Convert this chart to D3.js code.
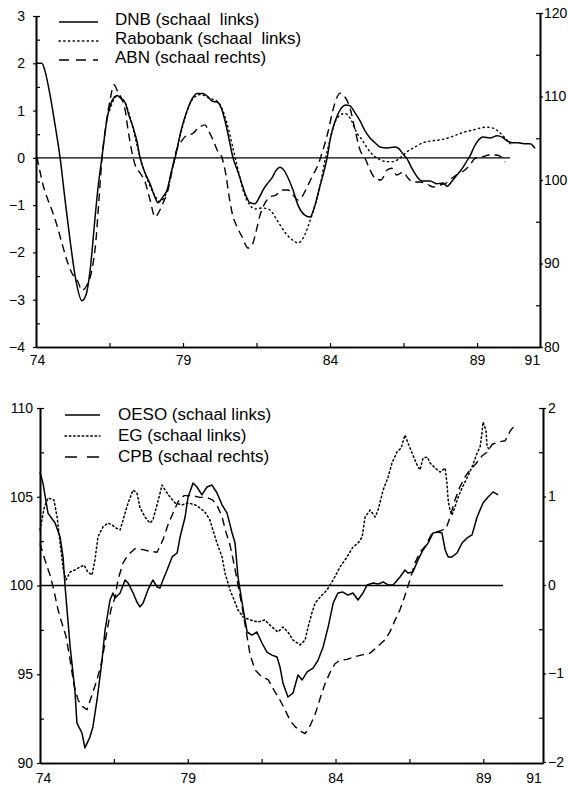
<!DOCTYPE html>
<html><head><meta charset="utf-8">
<script src="https://cdn.jsdelivr.net/npm/d3@7"></script>
<style>
body{margin:0;background:#fff;}
svg text{font-family:"Liberation Sans",Arial,Helvetica,sans-serif;fill:#000;}
</style></head><body><svg id="c" width="568" height="787"></svg>
<script>
// ---------- DATA (year, value) ----------
// Top panel: left scale
const dnb = [[74.0,2.0],[74.2,2.0],[74.3,1.85],[74.48,1.32],[74.65,0.69],[74.82,0.0],[74.99,-0.9],[75.16,-1.75],[75.36,-2.6],[75.56,-3.02],[75.7,-2.9],[75.84,-2.38],[76.0,-1.32],[76.1,-0.68],[76.24,0.0],[76.41,0.8],[76.58,1.2],[76.76,1.32],[76.9,1.25],[77.03,1.17],[77.16,0.9],[77.3,0.65],[77.44,0.33],[77.54,0],[77.71,-0.32],[77.88,-0.55],[78.05,-0.84],[78.15,-0.95],[78.32,-0.82],[78.46,-0.68],[78.6,-0.3],[78.73,0],[78.93,0.57],[79.14,1.0],[79.31,1.25],[79.48,1.36],[79.68,1.36],[79.85,1.29],[79.99,1.2],[80.19,1.17],[80.33,1.0],[80.5,0.59],[80.7,0],[80.87,-0.3],[81.0,-0.55],[81.14,-0.8],[81.28,-0.95],[81.45,-0.97],[81.59,-0.84],[81.72,-0.68],[81.89,-0.53],[82.03,-0.42],[82.16,-0.27],[82.3,-0.2],[82.44,-0.27],[82.57,-0.42],[82.74,-0.68],[82.91,-1.0],[83.12,-1.2],[83.32,-1.25],[83.49,-1.0],[83.66,-0.59],[83.8,-0.27],[83.9,0],[84.03,0.47],[84.2,0.82],[84.37,1.04],[84.54,1.12],[84.68,1.1],[84.85,0.95],[85.02,0.78],[85.19,0.57],[85.36,0.42],[85.53,0.32],[85.7,0.23],[85.94,0.21],[86.21,0.23],[86.35,0.19],[86.48,0.08],[86.62,-0.02],[86.79,-0.23],[86.96,-0.4],[87.13,-0.49],[87.4,-0.49],[87.64,-0.55],[87.84,-0.53],[87.98,-0.6],[88.15,-0.49],[88.32,-0.36],[88.49,-0.23],[88.66,-0.06],[88.76,0.04],[88.9,0.23],[89.03,0.36],[89.2,0.44],[89.44,0.42],[89.68,0.47],[89.85,0.44],[90.02,0.36],[90.19,0.32],[90.39,0.32],[90.6,0.3],[90.8,0.3],[90.97,0.2]];
const rabobank = [[76.5,1.0],[76.75,1.3],[77.0,1.2],[77.25,0.75],[77.5,0.1],[77.75,-0.4],[78.0,-0.75],[78.2,-0.92],[78.45,-0.72],[78.7,-0.05],[79.0,0.7],[79.3,1.22],[79.6,1.34],[79.9,1.26],[80.16,1.2],[80.33,1.04],[80.5,0.72],[80.7,0.2],[80.87,-0.25],[81.05,-0.7],[81.25,-0.98],[81.45,-1.08],[81.7,-1.06],[81.95,-1.1],[82.2,-1.32],[82.5,-1.6],[82.75,-1.75],[82.91,-1.8],[83.08,-1.7],[83.32,-1.33],[83.49,-1.0],[83.66,-0.59],[83.83,-0.05],[84.0,0.38],[84.17,0.76],[84.34,0.9],[84.5,0.94],[84.68,0.84],[84.92,0.52],[85.09,0.38],[85.26,0.21],[85.46,0.06],[85.7,-0.04],[85.94,-0.08],[86.14,-0.08],[86.38,0.0],[86.62,0.13],[86.89,0.23],[87.16,0.32],[87.47,0.36],[87.74,0.38],[88.01,0.42],[88.32,0.49],[88.59,0.55],[88.86,0.59],[89.1,0.63],[89.34,0.65],[89.54,0.63],[89.78,0.53],[89.95,0.42],[90.12,0.3]];
// Top panel: right scale
const abn = [[74.03,102.75],[74.14,100.96],[74.24,99.4],[74.37,97.96],[74.54,96.4],[74.71,94.6],[74.88,92.46],[75.05,90.4],[75.22,88.86],[75.43,87.78],[75.56,86.8],[75.73,87.4],[75.9,89.2],[76.04,92.8],[76.14,97.6],[76.24,102.4],[76.38,106.6],[76.52,109.6],[76.65,111.4],[76.79,110.5],[76.93,109.6],[77.03,108.4],[77.13,106.0],[77.23,103.95],[77.37,101.8],[77.54,100.84],[77.71,99.76],[77.88,97.6],[78.05,95.57],[78.18,96.17],[78.32,97.25],[78.46,98.44],[78.63,101.2],[78.76,103.35],[78.9,104.4],[79.1,105.27],[79.34,105.6],[79.51,106.2],[79.75,106.6],[79.85,106.0],[80.02,104.8],[80.16,103.6],[80.33,102.6],[80.46,100.6],[80.56,98.2],[80.67,96.05],[80.84,94.37],[81.01,93.17],[81.21,91.86],[81.35,92.2],[81.48,93.77],[81.62,95.8],[81.79,97.25],[81.96,97.96],[82.16,98.2],[82.37,98.8],[82.57,98.8],[82.74,98.2],[82.91,97.6],[83.08,98.2],[83.25,99.4],[83.42,100.6],[83.59,101.8],[83.76,103.6],[83.93,105.75],[84.1,108.4],[84.24,109.94],[84.34,110.4],[84.51,109.94],[84.68,108.6],[84.85,106.0],[85.02,103.6],[85.19,102.6],[85.36,101.2],[85.53,100.24],[85.73,100.0],[85.94,101.2],[86.1,101.4],[86.27,100.6],[86.48,100.96],[86.65,100.24],[86.82,99.76],[87.06,99.76],[87.3,99.5],[87.5,99.16],[87.74,99.4],[87.95,99.64],[88.15,100.24],[88.35,100.72],[88.59,101.2],[88.76,101.8],[88.93,102.6],[89.17,102.75],[89.41,102.99],[89.65,102.99],[89.82,102.75],[89.95,102.15]];
// Bottom panel: left scale
const oeso = [[74.0,106.39],[74.1,105.77],[74.27,104.08],[74.51,103.52],[74.68,102.73],[74.78,101.6],[74.85,99.92],[75.02,96.54],[75.18,94.11],[75.25,92.25],[75.42,91.69],[75.52,90.85],[75.69,91.46],[75.79,92.03],[75.93,93.55],[76.1,95.8],[76.2,97.49],[76.37,99.18],[76.47,99.58],[76.54,99.3],[76.71,99.58],[76.88,100.31],[76.98,100.14],[77.15,99.58],[77.28,99.07],[77.38,98.79],[77.49,99.01],[77.65,99.75],[77.82,100.31],[77.96,99.92],[78.06,99.86],[78.16,100.31],[78.3,100.87],[78.47,101.61],[78.64,101.83],[78.74,102.73],[78.91,103.86],[79.01,104.99],[79.18,105.77],[79.31,105.55],[79.48,105.1],[79.65,105.55],[79.82,105.66],[79.99,105.21],[80.16,104.54],[80.33,104.08],[80.5,102.96],[80.6,102.39],[80.7,100.48],[80.84,99.01],[81.01,97.38],[81.17,97.21],[81.34,97.38],[81.51,96.76],[81.68,96.25],[81.85,96.08],[82.02,95.97],[82.12,95.41],[82.22,94.51],[82.39,93.72],[82.56,93.94],[82.73,94.96],[82.87,94.68],[83.04,95.13],[83.24,95.35],[83.41,95.8],[83.58,96.54],[83.75,97.66],[83.92,99.01],[84.08,99.58],[84.25,99.63],[84.42,99.46],[84.59,99.58],[84.76,99.18],[84.93,99.58],[85.07,100.03],[85.27,100.14],[85.44,100.08],[85.61,100.2],[85.78,100.03],[85.95,100.03],[86.18,100.48],[86.35,100.87],[86.45,100.7],[86.62,100.76],[86.79,101.44],[86.96,102.0],[87.13,102.39],[87.3,102.96],[87.47,103.01],[87.6,102.96],[87.71,102.0],[87.81,101.61],[87.94,101.61],[88.11,101.83],[88.28,102.39],[88.45,102.68],[88.62,102.85],[88.79,103.86],[88.99,104.65],[89.16,104.99],[89.33,105.27],[89.5,105.1]];
const eg = [[74.0,103.13],[74.14,104.37],[74.27,104.93],[74.47,104.82],[74.58,103.86],[74.64,102.96],[74.71,102.0],[74.78,100.99],[74.88,100.31],[75.02,100.76],[75.18,100.87],[75.35,101.04],[75.49,101.15],[75.62,100.76],[75.76,100.59],[75.86,101.44],[75.96,102.73],[76.13,103.3],[76.3,103.52],[76.44,103.41],[76.57,103.24],[76.71,103.13],[76.81,103.69],[76.98,104.65],[77.15,105.38],[77.28,105.21],[77.38,104.42],[77.55,103.86],[77.72,103.52],[77.82,103.69],[77.93,104.37],[78.03,104.99],[78.13,105.66],[78.23,105.38],[78.4,104.99],[78.57,104.65],[78.81,104.54],[79.01,104.65],[79.25,104.54],[79.41,104.37],[79.58,104.14],[79.75,103.69],[79.85,103.13],[79.99,102.39],[80.16,101.61],[80.26,100.7],[80.43,99.75],[80.57,99.18],[80.7,98.62],[80.87,98.23],[81.11,98.06],[81.38,97.94],[81.61,98.06],[81.85,97.66],[82.05,97.38],[82.22,97.66],[82.39,97.38],[82.56,96.93],[82.8,96.65],[82.97,96.93],[83.07,97.66],[83.2,98.45],[83.31,99.01],[83.48,99.35],[83.71,99.75],[83.92,100.31],[84.15,101.04],[84.39,101.61],[84.59,102.17],[84.76,102.39],[84.9,102.73],[85.0,103.86],[85.17,104.25],[85.34,103.86],[85.44,104.25],[85.61,105.38],[85.78,106.11],[85.91,106.9],[86.08,107.52],[86.22,107.75],[86.35,108.48],[86.45,108.03],[86.59,107.46],[86.76,106.79],[86.86,106.51],[86.96,107.18],[87.1,107.24],[87.2,106.9],[87.37,106.62],[87.54,106.39],[87.71,106.62],[87.77,105.77],[87.81,104.82],[87.87,104.25],[87.94,103.97],[88.04,104.42],[88.15,104.99],[88.28,105.49],[88.45,106.06],[88.62,106.68],[88.79,107.46],[88.89,107.8],[88.96,108.65],[88.99,109.21],[89.09,108.76],[89.13,107.8],[89.23,107.63]];
// Bottom panel: right scale
const cpb = [[74.0,0.47],[74.17,0.28],[74.34,0.11],[74.47,-0.06],[74.61,-0.28],[74.74,-0.43],[74.88,-0.58],[75.02,-0.85],[75.15,-1.13],[75.29,-1.3],[75.46,-1.38],[75.59,-1.41],[75.76,-1.24],[75.93,-1.07],[76.1,-0.85],[76.27,-0.51],[76.4,-0.28],[76.54,-0.14],[76.64,0.06],[76.81,0.25],[76.98,0.34],[77.21,0.41],[77.49,0.4],[77.72,0.38],[77.96,0.37],[78.16,0.51],[78.33,0.68],[78.5,0.81],[78.67,0.94],[78.87,1.01],[79.14,1.01],[79.41,0.99],[79.65,0.99],[79.85,0.96],[80.02,0.88],[80.16,0.77],[80.29,0.6],[80.43,0.45],[80.57,0.23],[80.7,0.0],[80.84,-0.25],[80.97,-0.51],[81.11,-0.79],[81.28,-0.96],[81.51,-1.04],[81.72,-1.07],[81.92,-1.19],[82.12,-1.3],[82.29,-1.41],[82.46,-1.53],[82.63,-1.6],[82.8,-1.65],[82.97,-1.68],[83.14,-1.59],[83.31,-1.46],[83.48,-1.28],[83.64,-1.12],[83.81,-0.99],[83.98,-0.89],[84.15,-0.85],[84.39,-0.84],[84.66,-0.81],[84.9,-0.79],[85.17,-0.77],[85.44,-0.69],[85.67,-0.62],[85.84,-0.53],[86.01,-0.4],[86.18,-0.28],[86.35,-0.12],[86.52,0.06],[86.69,0.25],[86.86,0.37],[87.06,0.45],[87.27,0.59],[87.54,0.61],[87.74,0.64],[87.87,0.76],[88.04,0.96],[88.21,1.11],[88.38,1.22],[88.55,1.3],[88.75,1.37],[88.96,1.46],[89.13,1.5],[89.3,1.59],[89.57,1.62],[89.74,1.63],[89.91,1.74],[90.11,1.82]];

// Tick values / labels
const yearLabels = [74, 79, 84, 89, 91];
const yearTicks = [76.5, 79, 81.5, 84, 86.5, 89];
const topLeftTicks = [-4,-3,-2,-1,0,1,2,3];
const topLeftMinor = [-3.5,-2.5,-1.5,-0.5,0.5,1.5,2.5,3];
const topRightTicks = [80,90,100,110,120];
const topRightMinor = [85,95,105,115,120];
const botLeftTicks = [90,95,100,105,110];
const botLeftMinor = [92.5,97.5,102.5,107.5,110];
const botRightTicks = [-2,-1,0,1,2];
const botRightMinor = [-1.5,-0.5,0.5,1.5,2];
const topLegend = ["DNB (schaal  links)", "Rabobank (schaal  links)", "ABN (schaal rechts)"];
const botLegend = ["OESO (schaal links)", "EG (schaal links)", "CPB (schaal rechts)"];
const topRefLine = {years:[74, 90.12], value:0};
const botRefLine = {years:[74, 89.67], value:100};

// ---------- STYLES ----------
const STY = {
  solid:{dash:null, w:1.5},
  dotted:{dash:"1.3,3.4", w:1.4},
  dotted2:{dash:"1.5,2.8", w:1.5},
  dashed:{dash:"8,5", w:1.4}
};

const svg = d3.select("#c");
svg.append("rect").attr("width",568).attr("height",787).attr("fill","#fff");

function panel(o){
  const g = svg.append("g");
  const x = d3.scaleLinear().domain(o.xd).range(o.xr);
  const yL = d3.scaleLinear().domain(o.yLd).range(o.yLr);
  const yR = d3.scaleLinear().domain(o.yRd).range(o.yRr);
  const bottom = o.yLr[0];

  // left axis
  const la = g.append("g").attr("transform",`translate(${o.xr[0]},0)`)
    .call(d3.axisLeft(yL).tickValues(o.lt).tickSize(3).tickSizeOuter(0).tickPadding(o.lpad).tickFormat(d3.format("")));
  g.append("g").attr("transform",`translate(${o.xr[0]},0)`)
    .call(d3.axisLeft(yL).tickValues(o.lm).tickSize(-4).tickSizeOuter(0).tickFormat(""));
  // right axis
  g.append("g").attr("transform",`translate(${o.xr[1]},0)`)
    .call(d3.axisRight(yR).tickValues(o.rt).tickSize(3).tickSizeOuter(0).tickPadding(o.rpad).tickFormat(d3.format("")));
  g.append("g").attr("transform",`translate(${o.xr[1]},0)`)
    .call(d3.axisRight(yR).tickValues(o.rm).tickSize(-4).tickSizeOuter(0).tickFormat(""));
  // bottom axis
  const ba = g.append("g").attr("transform",`translate(0,${bottom})`)
    .call(d3.axisBottom(x).tickValues(yearLabels).tickSize(0).tickSizeOuter(0).tickPadding(o.bpad).tickFormat(d3.format("")));
  ba.selectAll(".tick").filter(d=>d===91).select("text").attr("dx", o.dx91);
  ba.selectAll(".tick").filter(d=>d===74).select("text").attr("dx", o.dx74);
  g.append("g").attr("transform",`translate(0,${bottom})`)
    .call(d3.axisBottom(x).tickValues(yearTicks).tickSize(-4).tickSizeOuter(0).tickFormat(""));

  g.selectAll(".domain").attr("stroke","#000").attr("stroke-width",1.6);
  g.selectAll(".tick line").attr("stroke","#000").attr("stroke-width",1.2);
  g.selectAll(".tick text").attr("font-size",14).attr("font-family",'"Liberation Sans",Arial,sans-serif');

  // reference line
  g.append("line")
    .attr("x1",x(o.ref.years[0])).attr("x2",x(o.ref.years[1]))
    .attr("y1",yL(o.ref.value)).attr("y2",yL(o.ref.value))
    .attr("stroke","#000").attr("stroke-width",1.4);

  // series
  o.series.forEach(s=>{
    const ys = s.axis==="L"?yL:yR;
    const line = d3.line().x(d=>x(d[0])).y(d=>ys(d[1])).curve(s.curve||d3.curveLinear);
    const st = STY[s.style];
    g.append("path").datum(s.data).attr("d",line)
      .attr("fill","none").attr("stroke","#000").attr("stroke-width",st.w)
      .attr("stroke-dasharray",st.dash).attr("stroke-linejoin","round")
      .attr("stroke-linecap",s.style.startsWith("dotted")?"round":"butt");
  });

  // legend
  o.series.forEach((s,i)=>{
    const st = STY[s.style];
    const ly = o.leg.y + i*o.leg.dy;
    g.append("line").attr("x1",o.leg.x1).attr("x2",o.leg.x2)
      .attr("y1",ly).attr("y2",ly)
      .attr("stroke","#000").attr("stroke-width",st.w)
      .attr("stroke-dasharray", s.style==="dashed"? o.leg.dash : st.dash)
      .attr("stroke-linecap",s.style.startsWith("dotted")?"round":"butt");
    g.append("text").attr("x",o.leg.tx).attr("y",ly+o.leg.tdy)
      .attr("font-size",17).style("white-space","pre").text(o.labels[i]);
  });
}

panel({
  xd:[74,91.14], xr:[36,540],
  yLd:[-4,3], yLr:[347,16],
  yRd:[80,120], yRr:[347,13],
  lt:topLeftTicks, lm:topLeftMinor, rt:topRightTicks, rm:topRightMinor,
  lpad:8, rpad:1, bpad:8, dx91:-4, dx74:1,
  ref:topRefLine,
  series:[
    {data:dnb, axis:"L", style:"solid", curve:d3.curveMonotoneX},
    {data:rabobank, axis:"L", style:"dotted", curve:d3.curveMonotoneX},
    {data:abn, axis:"R", style:"dashed", curve:d3.curveMonotoneX}
  ],
  labels:topLegend,
  leg:{x1:59, x2:98, tx:115, y:22, dy:19, tdy:3, dash:"10,7"}
});

panel({
  xd:[74,91.02], xr:[40,543],
  yLd:[90,110], yLr:[763,408],
  yRd:[-2,2], yRr:[762,408],
  lt:botLeftTicks, lm:botLeftMinor, rt:botRightTicks, rm:botRightMinor,
  lpad:4, rpad:2, bpad:10, dx91:-9, dx74:3,
  ref:botRefLine,
  series:[
    {data:oeso, axis:"L", style:"solid"},
    {data:eg, axis:"L", style:"dotted2"},
    {data:cpb, axis:"R", style:"dashed"}
  ],
  labels:botLegend,
  leg:{x1:65, x2:100, tx:118, y:415, dy:21, tdy:5, dash:"12,10"}
});
</script></body></html>
